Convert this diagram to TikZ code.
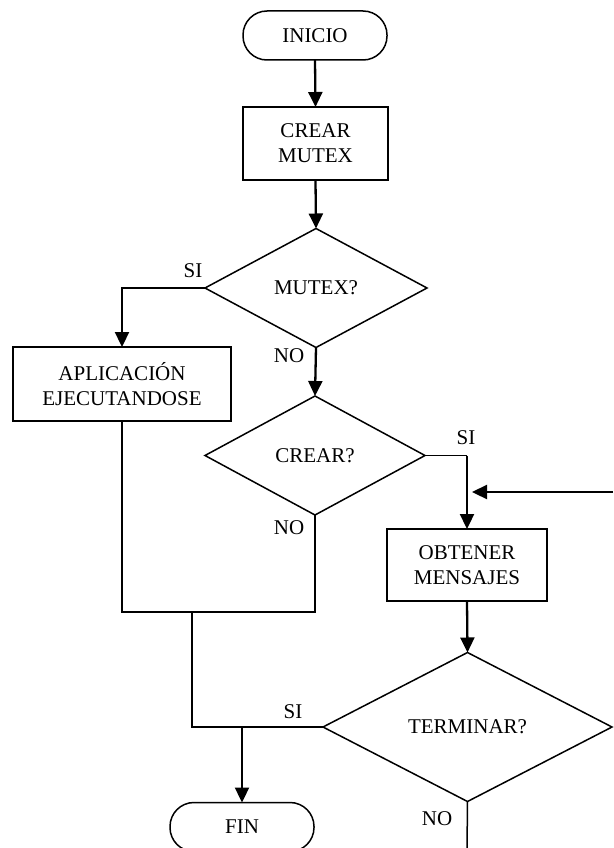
\documentclass[tikz,border=0pt]{standalone}
\usepackage{fontspec}
\setmainfont{Liberation Serif}
\usetikzlibrary{shapes.geometric,arrows.meta}
\begin{document}
\begin{tikzpicture}[x=1pt,y=-1pt,
  every node/.style={font=\fontsize{21}{25}\selectfont, align=center, inner sep=0pt, outer sep=0pt},
  terminal/.style={draw, line width=1.5pt, rounded corners=24pt, minimum width=144pt, minimum height=49pt},
  process/.style={draw, line width=1.5pt, minimum height=73pt},
  decision/.style={draw, diamond, line width=1.5pt},
  arr/.style={line width=2.3pt, -{Triangle[length=15pt,width=14pt]}},
  wire/.style={line width=1.5pt},
  lbl/.style={}
]
\useasboundingbox (0,0) rectangle (613,848);

% shapes
\node[terminal] (ini) at (315,35.5) {INICIO};
\node[process, minimum width=145pt] (crear) at (315.5,143.5) {CREAR\\MUTEX};
\node[decision, minimum width=222pt, minimum height=119pt] (mutex) at (316,288) {MUTEX?};
\node[process, minimum width=218pt, minimum height=74pt] (apl) at (122,384) {APLICACIÓN\\EJECUTANDOSE};
\node[decision, minimum width=220pt, minimum height=119pt] (crearq) at (315,455.5) {CREAR?};
\node[process, minimum width=160pt, minimum height=72pt] (obt) at (467,565) {OBTENER\\MENSAJES};
\node[decision, minimum width=289pt, minimum height=149pt] (term) at (467.5,727) {TERMINAR?};
\node[terminal] (fin) at (242,827) {FIN};

% branch labels
\node[lbl] (si1) at (193,271) {SI};
\node[lbl] (no1) at (289,356) {NO};
\node[lbl] (si2) at (466,438) {SI};
\node[lbl] (no2) at (289,528) {NO};
\node[lbl] (si3) at (293,712) {SI};
\node[lbl] (no3) at (437,819) {NO};

% free ends and junctions
\coordinate (loopin) at (613,492);
\coordinate (loopout) at (472,492);
\coordinate (sicorner) at (crearq.east -| obt.north);
\coordinate (merge) at (192,612);
\coordinate (finjoin) at (242,727);
\coordinate (loopdown) at (467,850);

% connectors
\draw[arr] (ini.south) -- (crear.north);
\draw[arr] (crear.south) -- (mutex.north);
\draw[arr] (mutex.west) -| (apl.north);
\draw[arr] (mutex.south) -- (crearq.north);
\draw[wire] (crearq.east) -- (sicorner);
\draw[arr] (sicorner) -- (obt.north);
\draw[arr] (loopin) -- (loopout);
\draw[arr] (obt.south) -- (term.north);
\draw[wire] (apl.south) |- (merge) -| (crearq.south);
\draw[wire] (merge) |- (term.west);
\draw[arr] (finjoin) -- (fin.north);
\draw[wire] (term.south) -- (loopdown);
\end{tikzpicture}
\end{document}
